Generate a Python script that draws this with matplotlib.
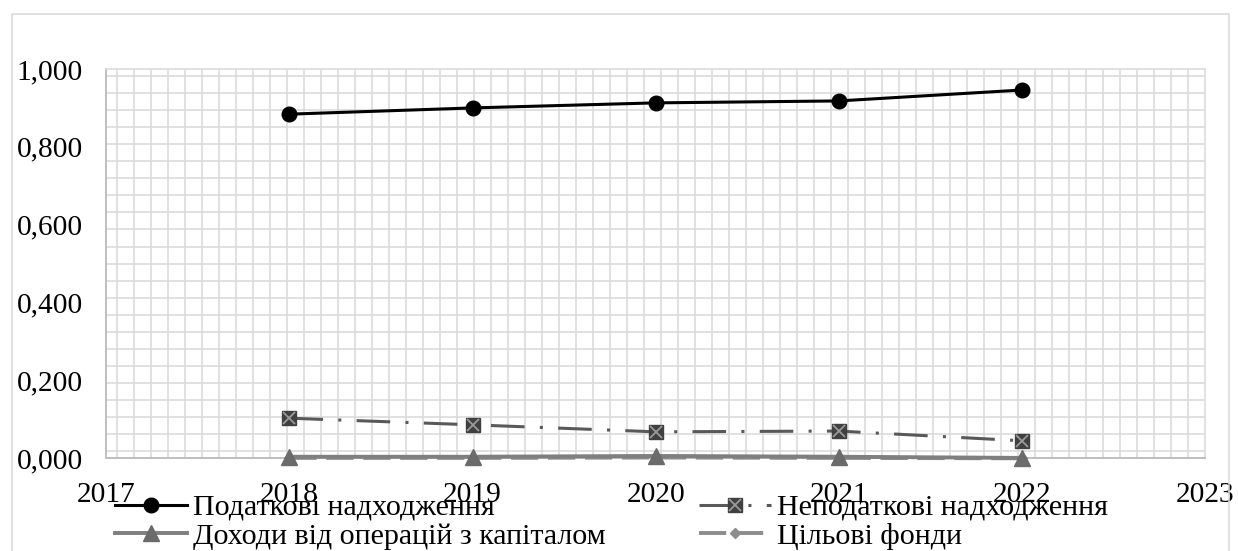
import matplotlib
matplotlib.use("Agg")
import matplotlib.pyplot as plt
from matplotlib.legend_handler import HandlerTuple
from matplotlib.patches import Rectangle

years = [2018, 2019, 2020, 2021, 2022]
tax = [0.884, 0.900, 0.913, 0.918, 0.946]
nontax = [0.103, 0.086, 0.068, 0.070, 0.045]
capital = [0.004, 0.004, 0.006, 0.004, 0.001]
target = [0.001, 0.001, 0.002, 0.001, 0.000]
labels = ["Податкові надходження", "Неподаткові надходження",
          "Доходи від операцій з капіталом", "Цільові фонди"]
xticks = [2017, 2018, 2019, 2020, 2021, 2022, 2023]
yticks = [0.0, 0.2, 0.4, 0.6, 0.8, 1.0]

W, H = 1238, 551
plt.rcParams['font.family'] = ['Liberation Serif', 'DejaVu Serif']
FS = 21.2
LFS = 21.6

fig = plt.figure(figsize=(W / 100, H / 100), dpi=100)
L, R, T, B = 106.3, 1205, 69, 458.3
ax = fig.add_axes([L / W, 1 - B / H, (R - L) / W, (B - T) / H])

# outer chart frame
fig.patches.append(Rectangle((12 / W, -0.1), (1229 - 12) / W, 1 - 14 / H + 0.1,
                             transform=fig.transFigure, fill=False,
                             edgecolor='#d9d9d9', linewidth=1.1))

# pattern grid (background fill of the plot area)
gc = '#d9d9d9'
for k in range(23):
    y = 76 + k * 17.05
    ax.plot([0, 1], [(B - y) / (B - T)] * 2, transform=ax.transAxes,
            color=gc, lw=1.1, zorder=0, solid_capstyle='butt')
for k in range(64):
    x = 117 + k * 17.0
    ax.plot([(x - L) / (R - L)] * 2, [0, 1], transform=ax.transAxes,
            color=gc, lw=1.1, zorder=0, solid_capstyle='butt')

lw = 2.2
l1, = ax.plot(years, tax, color='black', lw=lw, marker='o', ms=10.5,
              zorder=5, clip_on=False)
l2, = ax.plot(years, nontax, color='#595959', lw=lw, marker='s', ms=10.3,
              markerfacecolor='#404040', markeredgecolor='#404040',
              dashes=(11, 5, 1, 5), zorder=4, clip_on=False)
l2x, = ax.plot(years, nontax, linestyle='none', marker='x', ms=8.5,
               mew=1.3, color='#9a9a9a', zorder=4.5, clip_on=False)
l4, = ax.plot(years, target, color='#8c8c8c', lw=lw + 0.6, marker='D', ms=5.5,
              markerfacecolor='#8c8c8c', markeredgecolor='#8c8c8c',
              dashes=(7, 2.5), zorder=3, clip_on=False)
l3, = ax.plot(years, capital, color='#7f7f7f', lw=lw + 0.6, marker='^', ms=11.5,
              markerfacecolor='#6b6b6b', markeredgecolor='#6b6b6b',
              zorder=3.5, clip_on=False)

ax.set_xlim(2017, 2023)
ax.set_ylim(0, 1.0)
ax.set_xticks(xticks)
ax.set_xticklabels([str(v) for v in xticks], fontsize=FS)
ax.set_yticks(yticks)
ax.set_yticklabels([f"{v:.3f}".replace('.', ',') for v in yticks], fontsize=FS)
ax.tick_params(axis='both', length=0)
ax.tick_params(axis='x', pad=17)
ax.tick_params(axis='y', pad=17)
for s in ['top', 'right']:
    ax.spines[s].set_color('#d9d9d9')
    ax.spines[s].set_linewidth(1.1)
for s in ['left', 'bottom']:
    ax.spines[s].set_color('#bfbfbf')
    ax.spines[s].set_linewidth(1.4)

# row-major order in a 2-column legend: matplotlib fills column by column
handles = [l1, l3, (l2, l2x), l4]
leg_labels = [labels[0], labels[2], labels[1], labels[3]]
leg = fig.legend(handles, leg_labels, loc='upper left',
                 bbox_to_anchor=(115 / W, 1 - 494 / H), ncol=2,
                 frameon=False, fontsize=LFS, borderpad=0, borderaxespad=0,
                 handlelength=2.4, handletextpad=0.2, columnspacing=3.1,
                 labelspacing=0.06,
                 handler_map={tuple: HandlerTuple(ndivide=1)})

fig.savefig('out.png', dpi=100)
